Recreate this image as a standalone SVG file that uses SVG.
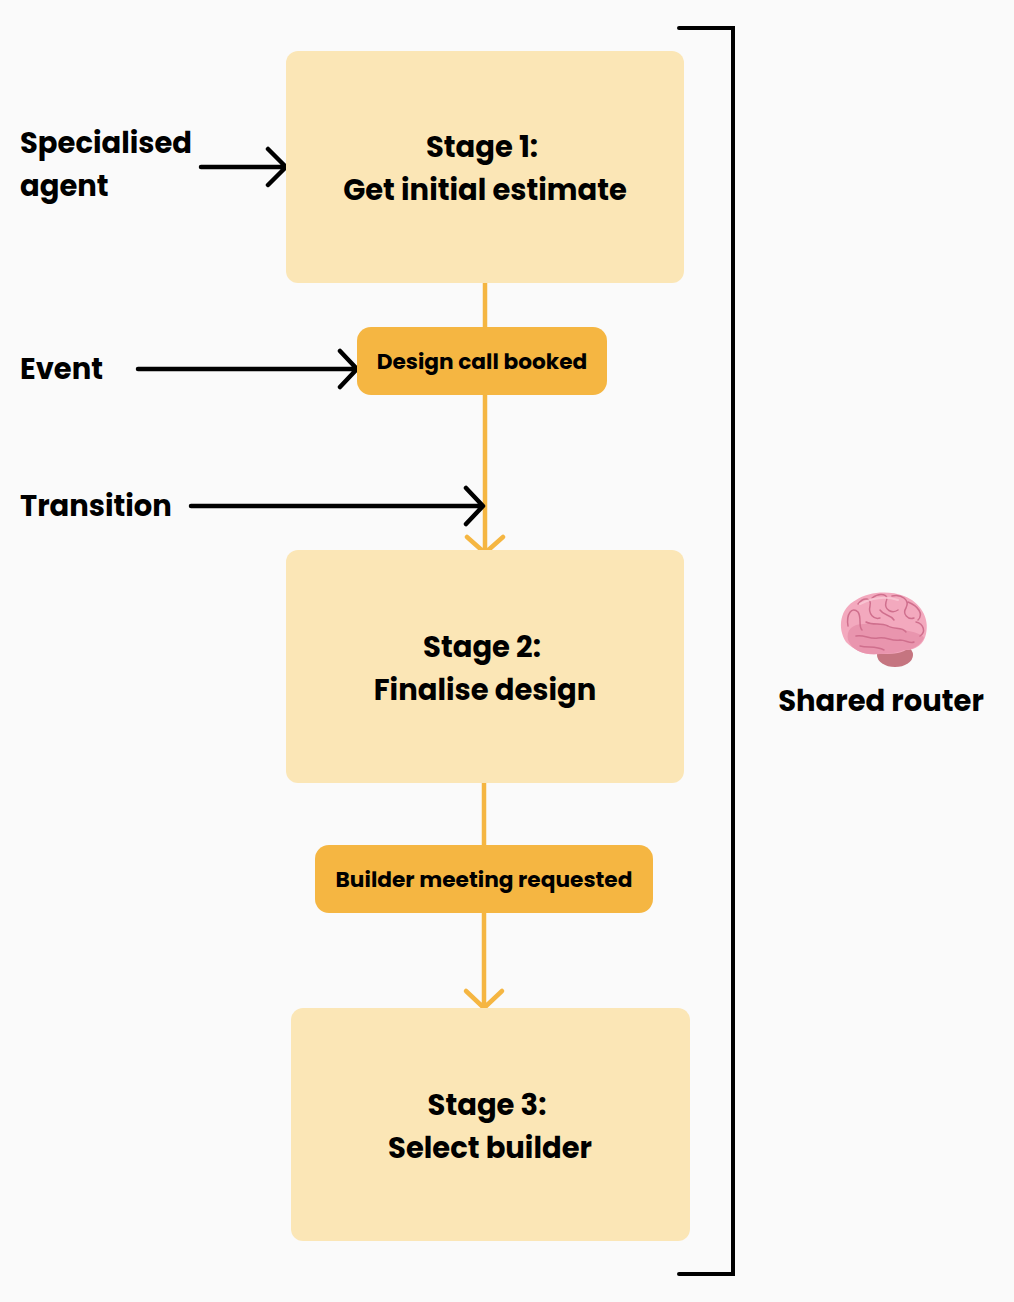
<svg xmlns="http://www.w3.org/2000/svg" width="1014" height="1302" viewBox="0 0 1014 1302">
<style>
.stage{fill:#fbe6b6}
.pill{fill:#f5b642}
.t{font-family:Poppins,"Inter","Liberation Sans",sans-serif;font-weight:700;fill:#000}
.big{font-size:29px}
.sm{font-size:21.7px}
.blk{fill:none;stroke:#000;stroke-width:4.5;stroke-linecap:round;stroke-linejoin:round}
.org{fill:none;stroke:#f5b642;stroke-width:4.5;stroke-linecap:round;stroke-linejoin:round}
.gy{fill:none;stroke:#cf6f8d;stroke-width:1.5;stroke-linecap:round;stroke-linejoin:round}
</style>
<rect x="0" y="0" width="1014" height="1302" fill="#fafafa"/>
<g id="connectors">
<path class="org" d="M485 283V327M485 395V552M467 537L485 553L503 537"/>
<path class="org" d="M484 783V845M484 913V1007M466 991L484 1008L502 991"/>
<path class="blk" d="M201 167H285M268 149L286 167L268 185"/>
<path class="blk" d="M138 369H356M340 351L357 369L340 387"/>
<path class="blk" d="M191 506H482M466 488L483 506L466 524"/>
<path d="M679 28H733V1274H679" fill="none" stroke="#000" stroke-width="4" stroke-linecap="round" stroke-linejoin="miter"/>
</g>
<g id="stage1">
<rect class="stage" x="286" y="51" width="398" height="232" rx="12"/>
<text class="t big" x="482" y="157" text-anchor="middle">Stage 1:</text>
<text class="t big" x="485" y="200" text-anchor="middle">Get initial estimate</text>
</g>
<g id="event1">
<rect class="pill" x="357" y="327" width="250" height="68" rx="14"/>
<text class="t sm" x="482" y="369" text-anchor="middle">Design call booked</text>
</g>
<g id="stage2">
<rect class="stage" x="286" y="550" width="398" height="233" rx="12"/>
<text class="t big" x="482" y="657" text-anchor="middle">Stage 2:</text>
<text class="t big" x="485" y="700" text-anchor="middle">Finalise design</text>
</g>
<g id="event2">
<rect class="pill" x="315" y="845" width="338" height="68" rx="14"/>
<text class="t sm" x="484" y="887" text-anchor="middle">Builder meeting requested</text>
</g>
<g id="stage3">
<rect class="stage" x="291" y="1008" width="399" height="233" rx="12"/>
<text class="t big" x="487" y="1115" text-anchor="middle">Stage 3:</text>
<text class="t big" x="490" y="1158" text-anchor="middle">Select builder</text>
</g>
<g id="labels">
<text class="t big" x="20" y="153">Specialised</text>
<text class="t big" x="20" y="196">agent</text>
<text class="t big" x="20" y="379">Event</text>
<text class="t big" x="20" y="516">Transition</text>
</g>
<g id="router">
<ellipse cx="895" cy="655" rx="18" ry="12" fill="#c57580"/>
<path d="M846 642C837 628 840 608 856 600C868 592 888 590 904 596C920 602 930 618 926 634C924 644 916 650 906 650C900 654 890 654 880 654C868 656 856 652 846 642Z" fill="#f3a9be"/>
<path d="M848 640C846 630 852 624 864 624C878 620 892 628 904 630C914 632 922 634 924 638C920 646 912 650 904 650C896 654 884 654 872 654C862 654 852 650 848 640Z" fill="#e995ae"/>
<path class="gy" d="M848 626C846 614 852 606 858 612C862 618 858 626 862 630M858 604C864 596 872 598 870 606C868 614 874 620 880 618M872 598C880 592 890 594 886 602C884 610 892 614 898 610M892 596C902 594 910 600 906 608C902 614 908 620 914 618M908 602C918 606 924 614 918 620M916 622C924 624 926 632 920 636M866 622C874 626 880 622 888 626C894 630 902 626 906 632M856 636C864 634 870 640 878 638C886 636 892 642 900 640C906 640 910 644 914 642M860 646C868 648 876 646 884 650M880 610C884 616 890 614 894 620"/>
<path d="M860 604C872 598 886 596 898 600" fill="none" stroke="#f9c9d6" stroke-width="2" stroke-linecap="round" opacity="0.8"/>
<text class="t big" x="881" y="711" text-anchor="middle">Shared router</text>
</g>
</svg>
